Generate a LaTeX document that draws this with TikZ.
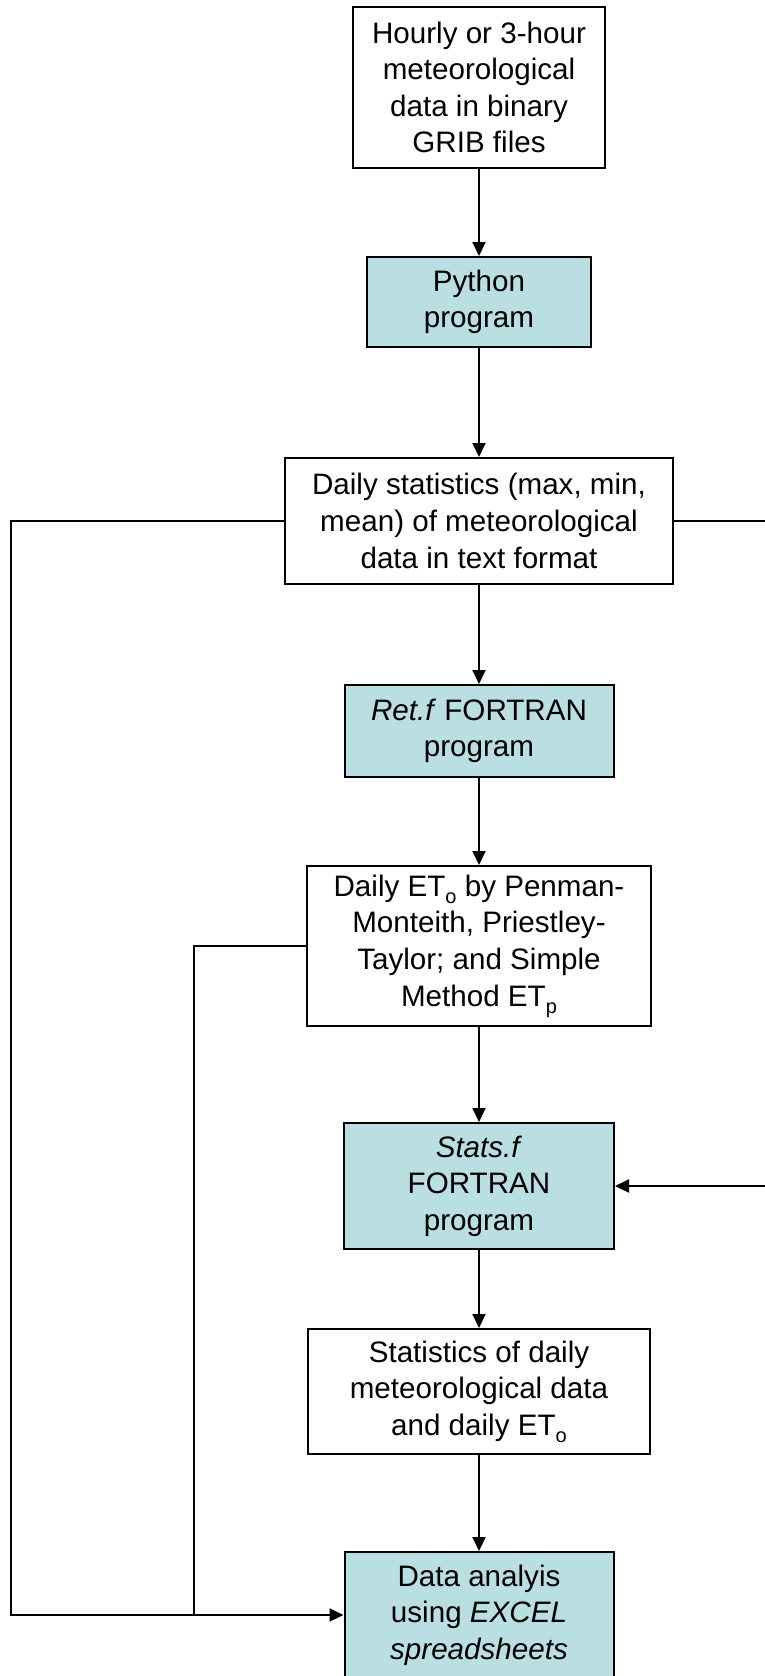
\documentclass[tikz,border=0pt]{standalone}
\usepackage{fontspec}
\setmainfont{Liberation Sans}
\usetikzlibrary{arrows.meta}
\definecolor{progblue}{RGB}{185,223,227}
\newcommand{\lowsub}[1]{\raisebox{-.45ex}{\fontsize{10}{10}\selectfont #1}}

\begin{document}
\begin{tikzpicture} [x=.5pt, y=-.5pt, line width=1pt,
  box/.style={draw, line width=1pt, align=center, inner sep=0pt, font=\fontsize{14.8}{18.3}\selectfont},
  prog/.style={box, fill=progblue},
  flow/.style={-{Triangle[length=7pt,width=6.5pt]}}]
\useasboundingbox (0,0) rectangle (765,1676);

\node[box, minimum width=126pt, minimum height=80.5pt] (grib) at (479,87.5) {Hourly or 3-hour\\meteorological\\data in binary\\GRIB files};
\node[prog, minimum width=112pt, minimum height=45pt] (python) at (479,302) {Python\\program};
\node[box, minimum width=194pt, minimum height=63pt] (daily) at (479,521) {Daily statistics (max, min,\\mean) of meteorological\\data in text format};
\node[prog, minimum width=134.5pt, minimum height=46pt] (ret) at (479,731) {\textit{Ret.f} FORTRAN\\program};
\node[box, minimum width=172pt, minimum height=80pt] (eto) at (479,946) {Daily ET\lowsub{o} by Penman-\\Monteith, Priestley-\\Taylor; and Simple\\Method ET\lowsub{p}};
\node[prog, minimum width=135pt, minimum height=63pt] (stats) at (479,1186) {\textit{Stats.f}\\FORTRAN\\program};
\node[box, minimum width=171pt, minimum height=62.5pt] (summary) at (479,1391.5) {Statistics of daily\\meteorological data\\and daily ET\lowsub{o}};
\node[prog, minimum width=134.5pt, minimum height=63pt] (excel) at (479,1615) {Data analyis\\using \textit{EXCEL}\\\textit{spreadsheets}};

\coordinate (lcorner) at (11,521);
\coordinate (mcorner) at (194,946);
\coordinate (rcorner) at (768,521);

\foreach \a/\b in {grib/python, python/daily, daily/ret, ret/eto, eto/stats, stats/summary, summary/excel}
  \draw[flow] (\a.south) -- (\b.north);

\draw[flow] (daily.west) -- (lcorner) |- (excel.west);
\draw (eto.west) -- (mcorner) -- (mcorner |- excel.west);
\draw[flow] (daily.east) -- (rcorner) |- (stats.east);

\end{tikzpicture}
\end{document}
